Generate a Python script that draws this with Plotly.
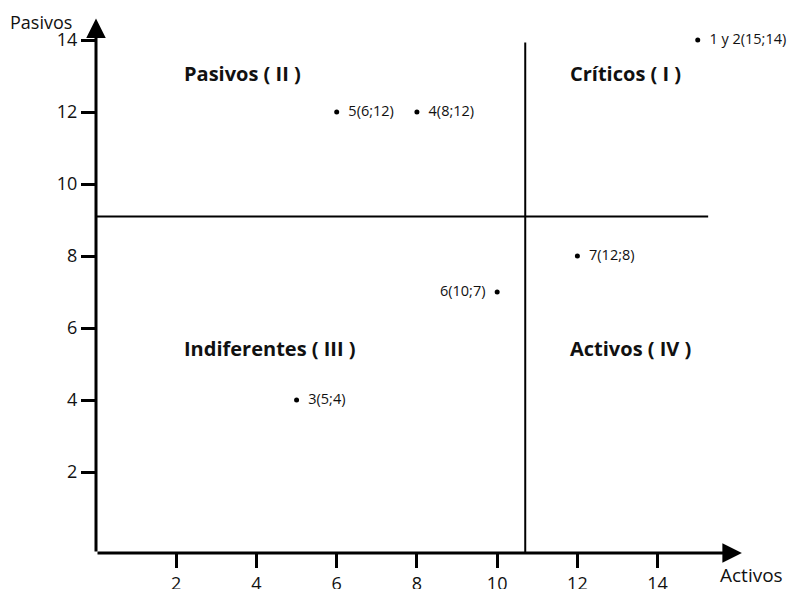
import plotly.graph_objects as go

# Data
point_ids = ["1 y 2", "3", "4", "5", "6", "7"]
activos = [15, 5, 8, 6, 10, 12]
pasivos = [14, 4, 12, 12, 7, 8]
text_pos = ["middle right", "middle right", "middle right", "middle right", "middle left", "middle right"]

tick_vals = [2, 4, 6, 8, 10, 12, 14]
tick_text = ["2", "4", "6", "8", "10", "12", "14"]

quadrant_names = ["Pasivos ( II )", "Críticos ( I )", "Indiferentes ( III )", "Activos ( IV )"]
quadrant_x = [2.14, 11.77, 2.14, 11.77]
quadrant_y = [13.08, 13.08, 5.44, 5.44]

div_x = 10.7
div_y = 9.1

labels = [f"{p}({a};{b})" for p, a, b in zip(point_ids, activos, pasivos)]

FONT = "Open Sans, DejaVu Sans, sans-serif"
X0, X1 = 0, 17.3
Y0, Y1 = -0.25, 14.89
PX_X = 40.1

L = 88
R = 795 - L - int(round((X1 - X0) * PX_X))

fig = go.Figure()
fig.add_trace(go.Scatter(
    x=activos, y=pasivos, mode="markers+text",
    text=["  " + t + "  " for t in labels], textposition=text_pos,
    marker=dict(color="black", size=5),
    textfont=dict(size=14.5, color="#111", family=FONT),
    cliponaxis=False, showlegend=False, hoverinfo="skip",
))

# divider lines
fig.add_shape(type="line", x0=div_x, x1=div_x, y0=Y0, y1=13.93,
              line=dict(color="black", width=2))
fig.add_shape(type="line", x0=0, x1=15.26, y0=div_y, y1=div_y,
              line=dict(color="black", width=2))

annotations = []
# axis arrows
annotations.append(dict(x=16.1, y=Y0, ax=0, ay=Y0, xref="x", yref="y", axref="x", ayref="y",
                        text="", showarrow=True, arrowhead=2, arrowsize=1.3, arrowwidth=3,
                        arrowcolor="black", standoff=0))
annotations.append(dict(x=0, y=14.6, ax=0, ay=Y0, xref="x", yref="y", axref="x", ayref="y",
                        text="", showarrow=True, arrowhead=2, arrowsize=1.3, arrowwidth=3,
                        arrowcolor="black", standoff=0))
for name, qx, qy in zip(quadrant_names, quadrant_x, quadrant_y):
    annotations.append(dict(x=qx, y=qy, xref="x", yref="y", text=f"<b>{name}</b>",
                            xanchor="left", showarrow=False,
                            font=dict(size=20, color="#111", family=FONT)))
annotations.append(dict(x=0, y=1, xref="x", yref="paper", text="Pasivos",
                        xanchor="right", yanchor="top", xshift=-22, yshift=0,
                        showarrow=False, font=dict(size=18, color="#111", family=FONT)))
annotations.append(dict(x=15.5, y=Y0, xref="x", yref="y", text="Activos",
                        xanchor="left", yanchor="top", yshift=-7,
                        showarrow=False, font=dict(size=19, color="#111", family=FONT)))

fig.update_layout(
    width=795, height=589,
    margin=dict(l=L, r=R, t=0, b=44, autoexpand=False),
    plot_bgcolor="white", paper_bgcolor="white",
    annotations=annotations,
    xaxis=dict(range=[X0, X1], showgrid=False, zeroline=False, showline=False,
               automargin=False,
               tickmode="array", tickvals=tick_vals, ticktext=tick_text,
               ticks="outside", ticklen=14, tickwidth=2.5, tickcolor="black",
               tickfont=dict(size=18, color="#111", family=FONT)),
    yaxis=dict(range=[Y0, Y1], showgrid=False, zeroline=False, showline=False,
               automargin=False,
               tickmode="array", tickvals=tick_vals, ticktext=tick_text,
               ticks="outside", ticklen=14, tickwidth=2.5, tickcolor="black",
               tickfont=dict(size=18, color="#111", family=FONT)),
)

fig.write_html("out.html")
